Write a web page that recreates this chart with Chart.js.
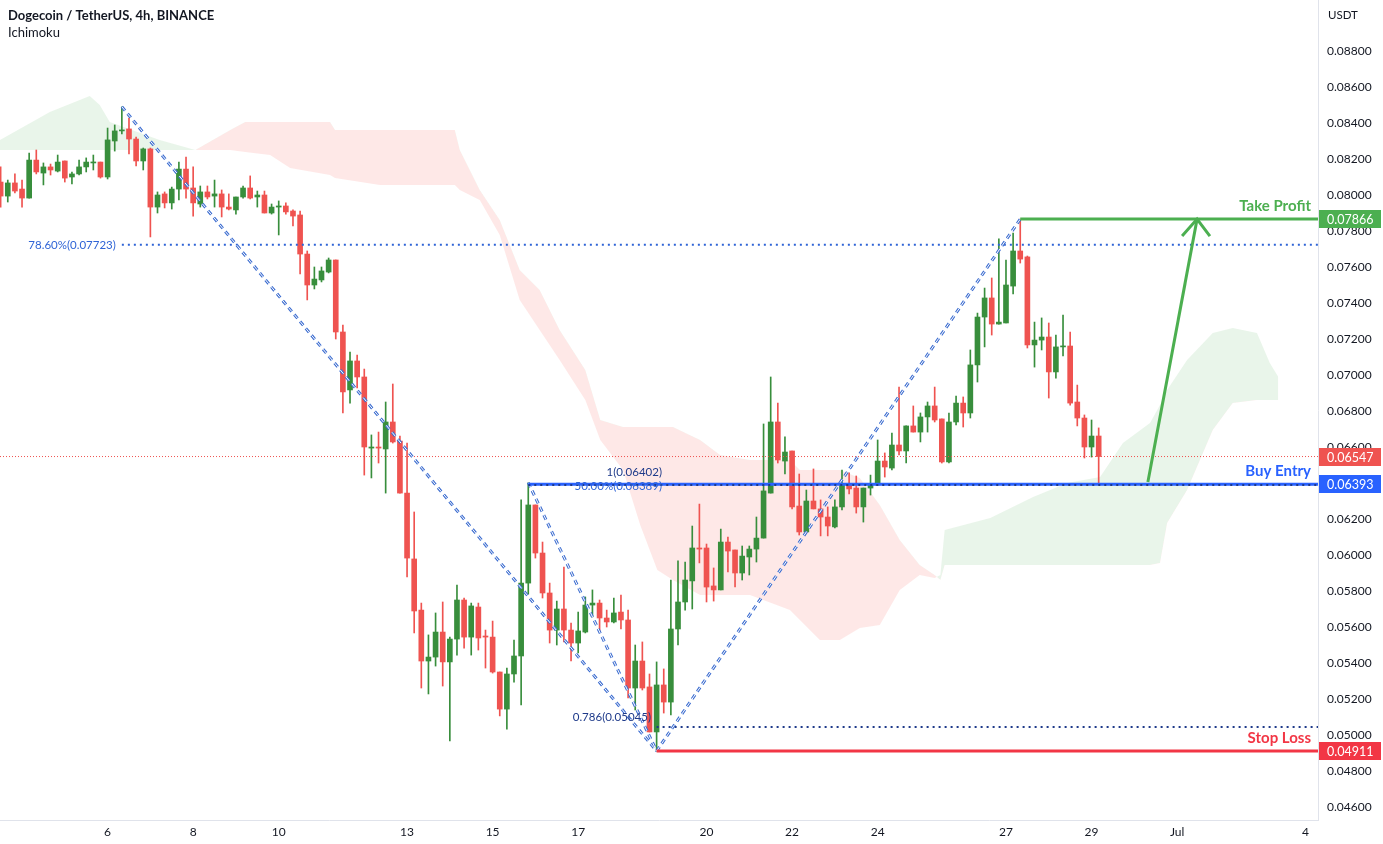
<!DOCTYPE html>
<html><head><meta charset="utf-8">
<script src="https://cdn.jsdelivr.net/npm/chart.js@4.4.1/dist/chart.umd.min.js"></script>
<style>html,body{margin:0;padding:0;background:#fff;}#wrap{width:1383px;height:844px;}</style>
</head><body><div id="wrap"><canvas id="c" width="1383" height="844"></canvas></div>
<script>
// ---- data (4h candles, index 0 = Jun 6 00:00) ----
const FIRST_INDEX = -15;
const openP = [
0.08072,0.07994,0.08067,0.08033,0.07983,0.08194,0.08122,0.08156,0.08133,0.08189,
0.08100,0.08117,0.08156,0.08178,0.08183,0.08100,0.08300,0.08356,0.08367,0.08311,
0.08189,0.08256,0.07933,0.08006,0.07956,0.08033,0.08144,0.08039,0.07950,0.08017,
0.07994,0.08006,0.07933,0.07917,0.07989,0.08039,0.07989,0.08000,0.07900,0.07933,
0.07939,0.07911,0.07889,0.07672,0.07500,0.07528,0.07572,0.07639,0.07239,0.06917,
0.07078,0.06989,0.06594,0.06600,0.06589,0.06739,0.06633,0.06344,0.05978,0.05694,
0.05411,0.05433,0.05572,0.05406,0.05533,0.05750,0.05544,0.05711,0.05550,0.05544,
0.05350,0.05144,0.05339,0.05439,0.05844,0.06278,0.06011,0.05789,0.05583,0.05700,
0.05583,0.05511,0.05572,0.05722,0.05733,0.05650,0.05628,0.05683,0.05639,0.05261,
0.05411,0.05267,0.05017,0.05278,0.05183,0.05589,0.05739,0.05856,0.06039,0.06039,
0.05828,0.05806,0.06072,0.06028,0.05900,0.05989,0.06033,0.06094,0.06344,0.06739,
0.06522,0.06578,0.06272,0.06128,0.06300,0.06256,0.06211,0.06156,0.06267,0.06389,
0.06372,0.06267,0.06372,0.06389,0.06522,0.06483,0.06611,0.06578,0.06717,0.06683,
0.06767,0.06828,0.06756,0.06517,0.06739,0.06844,0.06789,0.07056,0.07322,0.07428,
0.07283,0.07289,0.07494,0.07689,0.07656,0.07167,0.07194,0.07211,0.07017,0.07156,
0.07161,0.06850,0.06761,0.06600,0.06661];
const highP = [
0.08156,0.08083,0.08117,0.08083,0.08233,0.08250,0.08178,0.08172,0.08222,0.08189,
0.08128,0.08194,0.08206,0.08222,0.08183,0.08372,0.08389,0.08490,0.08428,0.08322,
0.08261,0.08261,0.08017,0.08017,0.08044,0.08183,0.08211,0.08156,0.08050,0.08050,
0.08083,0.08028,0.08006,0.07989,0.08050,0.08106,0.08022,0.08022,0.07950,0.07967,
0.07956,0.07917,0.07911,0.07689,0.07600,0.07600,0.07650,0.07639,0.07278,0.07128,
0.07111,0.07033,0.06667,0.06683,0.06850,0.06950,0.06661,0.06622,0.06239,0.05733,
0.05556,0.05678,0.05739,0.05544,0.05833,0.05761,0.05733,0.05733,0.05583,0.05633,
0.05350,0.05372,0.05528,0.06306,0.06402,0.06278,0.06072,0.05844,0.05744,0.05933,
0.05622,0.05683,0.05767,0.05806,0.05750,0.05694,0.05761,0.05778,0.05694,0.05500,
0.05517,0.05339,0.05406,0.05367,0.05861,0.05967,0.05961,0.06161,0.06283,0.06061,
0.05928,0.06144,0.06100,0.06028,0.06050,0.06050,0.06211,0.06728,0.06989,0.06844,
0.06656,0.06578,0.06450,0.06361,0.06478,0.06306,0.06267,0.06306,0.06472,0.06456,
0.06439,0.06372,0.06444,0.06639,0.06567,0.06678,0.06933,0.06717,0.06828,0.06789,
0.06850,0.06933,0.06756,0.06789,0.06883,0.06878,0.07139,0.07344,0.07483,0.07539,
0.07756,0.07639,0.07789,0.07866,0.07661,0.07294,0.07317,0.07289,0.07222,0.07333,
0.07239,0.06944,0.06778,0.06750,0.06706];
const lowP = [
0.07933,0.07961,0.08011,0.07933,0.07983,0.08117,0.08056,0.08111,0.08128,0.08072,
0.08061,0.08111,0.08128,0.08139,0.08094,0.08089,0.08244,0.08339,0.08228,0.08161,
0.08139,0.07767,0.07900,0.07928,0.07922,0.07972,0.07983,0.07883,0.07933,0.07978,
0.07933,0.07878,0.07917,0.07894,0.07983,0.07978,0.07933,0.07900,0.07894,0.07778,
0.07894,0.07828,0.07561,0.07417,0.07478,0.07517,0.07567,0.07200,0.06789,0.06844,
0.06928,0.06444,0.06428,0.06511,0.06344,0.06622,0.06344,0.05878,0.05567,0.05261,
0.05228,0.05383,0.05272,0.04967,0.05444,0.05483,0.05444,0.05472,0.05372,0.05344,
0.05106,0.05033,0.05294,0.05167,0.05783,0.05983,0.05761,0.05511,0.05500,0.05517,
0.05411,0.05456,0.05567,0.05656,0.05572,0.05600,0.05622,0.05589,0.05206,0.05139,
0.05250,0.05017,0.04911,0.05122,0.05111,0.05500,0.05694,0.05700,0.05956,0.05739,
0.05744,0.05806,0.05906,0.05822,0.05861,0.05889,0.05961,0.06094,0.06344,0.06511,
0.06450,0.06256,0.06111,0.06128,0.06256,0.06106,0.06106,0.06150,0.06250,0.06339,
0.06233,0.06183,0.06333,0.06389,0.06433,0.06472,0.06556,0.06511,0.06683,0.06628,
0.06683,0.06739,0.06511,0.06511,0.06722,0.06711,0.06761,0.06961,0.07156,0.07222,
0.07283,0.07289,0.07450,0.07622,0.07150,0.07044,0.07139,0.06872,0.06983,0.07106,
0.06833,0.06717,0.06539,0.06544,0.06400];
const closeP = [
0.07994,0.08067,0.08022,0.07983,0.08194,0.08128,0.08156,0.08139,0.08183,0.08094,
0.08117,0.08156,0.08183,0.08183,0.08100,0.08306,0.08356,0.08361,0.08311,0.08189,
0.08256,0.07933,0.08000,0.07956,0.08033,0.08144,0.08033,0.07956,0.08017,0.07989,
0.08006,0.07933,0.07922,0.07989,0.08039,0.07983,0.08000,0.07900,0.07933,0.07939,
0.07906,0.07883,0.07672,0.07500,0.07533,0.07578,0.07639,0.07239,0.06906,0.07078,
0.06989,0.06600,0.06600,0.06594,0.06739,0.06628,0.06344,0.05983,0.05689,0.05411,
0.05433,0.05572,0.05406,0.05533,0.05750,0.05544,0.05717,0.05539,0.05544,0.05350,
0.05144,0.05339,0.05439,0.05844,0.06278,0.06011,0.05789,0.05583,0.05700,0.05583,
0.05511,0.05578,0.05722,0.05733,0.05650,0.05628,0.05678,0.05639,0.05261,0.05411,
0.05261,0.05017,0.05278,0.05183,0.05589,0.05739,0.05861,0.06039,0.06033,0.05822,
0.05806,0.06072,0.06022,0.05900,0.05994,0.06033,0.06094,0.06356,0.06739,0.06528,
0.06572,0.06267,0.06128,0.06300,0.06256,0.06211,0.06161,0.06267,0.06389,0.06367,
0.06267,0.06372,0.06394,0.06522,0.06489,0.06611,0.06578,0.06717,0.06683,0.06767,
0.06828,0.06750,0.06517,0.06739,0.06844,0.06789,0.07056,0.07322,0.07428,0.07283,
0.07294,0.07500,0.07689,0.07644,0.07167,0.07194,0.07211,0.07017,0.07156,0.07161,
0.06844,0.06761,0.06600,0.06661,0.06547];

// Ichimoku cloud (Senkou span A / B), sampled at break points of the outline
const cloudIdx = [-15.1,-8.1,-2.5,-1.1,0.3,7.3,12.3,17.2,19.3,22.8,25.6,31.2,31.9,38.2,48.7,49.4,52.2,55.0,57.8,60.6,63.4,67.0,69.1,72.3,74.7,77.1,79.3,83.1,85.9,90.1,95.7,97.1,99.9,102.7,105.5,108.3,111.1,113.9,116.0,116.8,117.4,123.8,129.8,134.6,139.2,142.4,146.2,147.6,148.6,151.4,155.0,157.8,161.2,163.0,164.2];
const spanA = [0.08306,0.08461,0.08550,0.08500,0.08406,0.08306,0.08250,0.08250,0.08239,0.08222,0.08150,0.08111,0.08094,0.08056,0.08056,0.08028,0.07972,0.07778,0.07417,0.07250,0.07083,0.06861,0.06639,0.06472,0.06167,0.05917,0.05861,0.05778,0.05778,0.05778,0.05694,0.05639,0.05528,0.05528,0.05594,0.05611,0.05806,0.05889,0.05872,0.05889,0.06139,0.06206,0.06322,0.06400,0.06433,0.06622,0.06733,0.06833,0.06917,0.07083,0.07233,0.07261,0.07233,0.07067,0.06989];
const spanB = [0.08250,0.08250,0.08250,0.08250,0.08250,0.08250,0.08250,0.08361,0.08406,0.08406,0.08406,0.08406,0.08361,0.08361,0.08361,0.08250,0.08028,0.07861,0.07583,0.07472,0.07250,0.07028,0.06750,0.06711,0.06711,0.06711,0.06711,0.06639,0.06556,0.06528,0.06528,0.06472,0.06472,0.06472,0.06428,0.06278,0.06083,0.05944,0.05889,0.05861,0.05944,0.05944,0.05944,0.05944,0.05944,0.05944,0.05944,0.05956,0.06178,0.06361,0.06694,0.06844,0.06861,0.06861,0.06861];

const dateTickIdx = [0,12,24,42,54,66,84,96,108,126,138,150,168];
const dateTickLabels = ['6','8','10','13','15','17','20','22','24','27','29','Jul','4'];
const priceTicks = [0.046,0.048,0.050,0.052,0.054,0.056,0.058,0.060,0.062,0.064,0.066,0.068,0.070,0.072,0.074,0.076,0.078,0.080,0.082,0.084,0.086,0.088];

// drawing / analysis levels
const takeProfit = 0.07866, lastPrice = 0.06547, buyEntry = 0.06393, stopLoss = 0.04911;
const fib786 = 0.07723, fibOne = 0.06402, fib50 = 0.06389, fib0786b = 0.05045;
const swingHigh = {i: 2, p: 0.08490}, swingLow = {i: 77, p: 0.04911}, midHigh = {i: 59, p: 0.06402}, peak = {i: 128, p: 0.07866};
const arrowStart = {i: 145.9, p: 0.06406}, arrowTip = {i: 152.8, p: 0.07866};
const arrowLeft = {i: 150.7, p: 0.07772}, arrowRight = {i: 154.6, p: 0.07772};

const X_MIN = -15.09, X_MAX = 169.76, Y_MIN = 0.045278, Y_MAX = 0.090833;
const GREEN = '#388e3c', RED = '#ef5350';
const FONT = 'Lato, "Open Sans", sans-serif';

const idx = openP.map((_, i) => FIRST_INDEX + i);
const candleColor = idx.map((_, i) => closeP[i] >= openP[i] ? GREEN : RED);
const seg = (a, b) => [{x: a.i, y: a.p}, {x: b.i, y: b.p}];
const hline = (i0, p) => [{x: i0, y: p}, {x: X_MAX, y: p}];
const lineDs = (data, color, width, dash, order) => ({type: 'line', data, borderColor: color, borderWidth: width, borderDash: dash || [], pointRadius: 0, fill: false, order, tension: 0, borderCapStyle: 'butt'});

const datasets = [
  {type: 'line', data: cloudIdx.map((k, i) => ({x: k, y: spanB[i]})), borderWidth: 0, borderColor: 'rgba(0,0,0,0)', pointRadius: 0, fill: false, order: 30},
  {type: 'line', data: cloudIdx.map((k, i) => ({x: k, y: spanA[i]})), borderWidth: 0, borderColor: 'rgba(0,0,0,0)', pointRadius: 0, order: 29,
   fill: {target: 0, above: 'rgba(76,175,80,0.12)', below: 'rgba(244,67,54,0.12)'}},
  {type: 'bar', data: idx.map((k, i) => ({x: k, y: [lowP[i], highP[i]]})), backgroundColor: candleColor, barThickness: 1, grouped: false, order: 20, borderWidth: 0},
  {type: 'bar', data: idx.map((k, i) => ({x: k, y: [openP[i], closeP[i]]})), backgroundColor: candleColor, barThickness: 5, grouped: false, order: 19, borderWidth: 0, minBarLength: 1},
  lineDs(hline(X_MIN, lastPrice), RED, 1, [1, 2], 15),
  lineDs(hline(swingHigh.i, fib786), '#2f64d6', 2, [2, 4], 14),
  lineDs(hline(swingLow.i, fib0786b), '#1e3a8a', 2, [2, 4], 14),
  lineDs(seg(swingHigh, swingLow), '#3f6fd1', 3, [5, 4], 13),
  lineDs(seg(swingHigh, swingLow), '#ffffff', 1, [5, 4], 12),
  lineDs(seg(midHigh, swingLow), '#3f6fd1', 3, [5, 4], 13),
  lineDs(seg(midHigh, swingLow), '#ffffff', 1, [5, 4], 12),
  lineDs(seg(swingLow, peak), '#3f6fd1', 3, [5, 4], 13),
  lineDs(seg(swingLow, peak), '#ffffff', 1, [5, 4], 12),
  lineDs(hline(midHigh.i, buyEntry), '#2962ff', 3, [], 5),
  lineDs(hline(midHigh.i, fib50), '#1e3a8a', 2, [2, 4], 4),
  lineDs(hline(peak.i, takeProfit), '#4caf50', 3, [], 5),
  lineDs(hline(swingLow.i, stopLoss), '#f23645', 3, [], 5),
  lineDs(seg(arrowStart, arrowTip), '#4caf50', 3, [], 3),
  lineDs([{x: arrowLeft.i, y: arrowLeft.p}, {x: arrowTip.i, y: arrowTip.p}, {x: arrowRight.i, y: arrowRight.p}], '#4caf50', 3, [], 3),
];

function txt(ctx, s, x, y, color, size, weight, align) {
  ctx.font = (weight || 'normal') + ' ' + size + 'px ' + FONT;
  ctx.fillStyle = color; ctx.textAlign = align || 'left'; ctx.textBaseline = 'middle';
  ctx.fillText(s, x, y);
}

const overlay = {
  id: 'overlay',
  afterDatasetsDraw(chart) {
    const {ctx, scales: {x, y}} = chart;
    ctx.save();
    txt(ctx, 'Take Profit', 1311, y.getPixelForValue(takeProfit) - 13, '#4caf50', 15, 'bold', 'right');
    txt(ctx, 'Buy Entry', 1311, y.getPixelForValue(buyEntry) - 13, '#2962ff', 15, 'bold', 'right');
    txt(ctx, 'Stop Loss', 1311, y.getPixelForValue(stopLoss) - 13, '#f23645', 15, 'bold', 'right');
    txt(ctx, '78.60%(' + fib786.toFixed(5) + ')', x.getPixelForValue(swingHigh.i) - 6, y.getPixelForValue(fib786), '#2f64d6', 11.5, 'normal', 'right');
    txt(ctx, '1(' + fibOne.toFixed(5) + ')', 662, y.getPixelForValue(fibOne) - 10, '#1e3a8a', 11.5, 'normal', 'right');
    txt(ctx, '50.00%(' + fib50.toFixed(5) + ')', 662, y.getPixelForValue(fib50) + 1, '#2f64d6', 11.5, 'normal', 'right');
    txt(ctx, '0.786(' + fib0786b.toFixed(5) + ')', 651, y.getPixelForValue(fib0786b) - 10, '#1e3a8a', 11.5, 'normal', 'right');
    ctx.restore();
  },
  afterDraw(chart) {
    const {ctx, scales: {y}} = chart;
    ctx.save();
    txt(ctx, 'Dogecoin / TetherUS, 4h, BINANCE', 8, 16, '#131722', 13, 'bold');
    txt(ctx, 'Ichimoku', 8, 33, '#131722', 13, 'normal');
    txt(ctx, 'USDT', 1328, 15, '#131722', 11.5, 'normal');
    const boxes = [[takeProfit, '#4caf50'], [lastPrice, '#ef5350'], [buyEntry, '#2962ff'], [stopLoss, '#f23645']];
    boxes.forEach(([p, c]) => {
      const py = Math.round(y.getPixelForValue(p));
      ctx.fillStyle = c;
      ctx.fillRect(1319, py - 9, 62, 18);
      txt(ctx, p.toFixed(5), 1327, py + 0.5, '#ffffff', 12.5, 'normal');
    });
    ctx.restore();
  }
};

new Chart(document.getElementById('c'), {
  type: 'bar',
  data: {datasets},
  options: {
    responsive: false, animation: false, devicePixelRatio: 1,
    layout: {padding: 0},
    plugins: {legend: {display: false}, tooltip: {enabled: false}},
    scales: {
      x: {
        type: 'linear', min: X_MIN, max: X_MAX, offset: false,
        grid: {display: false, drawTicks: false}, border: {display: true, color: '#e0e3eb'},
        afterBuildTicks: s => { s.ticks = dateTickIdx.map(v => ({value: v})); },
        ticks: {autoSkip: false, maxRotation: 0, padding: 5, color: '#131722', font: {family: FONT, size: 12},
          callback: v => { const j = dateTickIdx.indexOf(v); return j >= 0 ? dateTickLabels[j] : ''; }},
        afterFit: s => { s.height = 24; s.paddingLeft = 0; s.paddingRight = 0; }
      },
      y: {
        type: 'linear', position: 'right', min: Y_MIN, max: Y_MAX,
        grid: {display: false, drawTicks: false}, border: {display: true, color: '#e0e3eb'},
        afterBuildTicks: s => { s.ticks = priceTicks.map(v => ({value: v})); },
        ticks: {padding: 9, color: '#131722', font: {family: FONT, size: 12}, callback: v => Number(v).toFixed(5)},
        afterFit: s => { s.width = 65; s.paddingTop = 0; s.paddingBottom = 0; }
      }
    }
  },
  plugins: [overlay]
});
</script></body></html>
